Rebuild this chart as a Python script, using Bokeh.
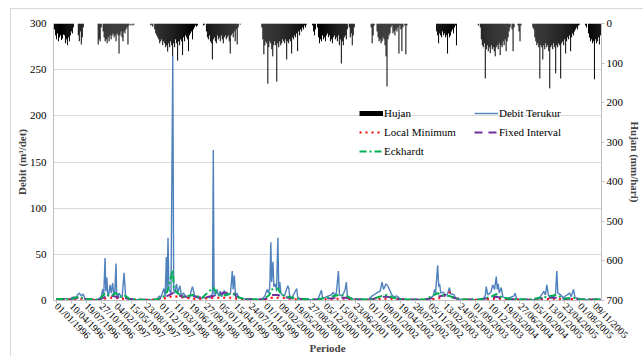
import pandas as pd
from bokeh.plotting import figure
from bokeh.models import (Range1d, LinearAxis, FixedTicker, DatetimeTickFormatter,
                          Legend, LegendItem, ColumnDataSource)
from bokeh.embed import file_html
from bokeh.resources import INLINE

# ---------------- data ----------------
tick_labels = ["01/01/1996", "10/04/1996", "19/07/1996", "27/10/1996", "04/02/1997", "15/05/1997",
               "23/08/1997", "01/12/1997", "11/03/1998", "19/06/1998", "27/09/1998", "05/01/1999",
               "15/04/1999", "24/07/1999", "01/11/1999", "09/02/2000", "19/05/2000", "27/08/2000",
               "05/12/2000", "15/03/2001", "23/06/2001", "01/10/2001", "09/01/2002", "19/04/2002",
               "28/07/2002", "05/11/2002", "13/02/2003", "24/05/2003", "01/09/2003", "10/12/2003",
               "19/03/2004", "27/06/2004", "05/10/2004", "13/01/2005", "23/04/2005", "01/08/2005",
               "09/11/2005"]

# rainfall (mm/hari), read per wet season, one value per ~6.6 days (one pixel column)
rain_starts = ["1995-12-19", "1996-05-26", "1996-10-06", "1997-09-23", "1998-09-10", "1999-10-06",
               "2000-09-09", "2001-10-06", "2002-12-18", "2003-09-23", "2004-09-22", "2005-09-09"]
rain_1996a = [15, 30, 40, 25, 45, 35, 30, 42, 38, 28, 30, 50, 40, 55, 35, 45, 30, 20, 25, 10]
rain_1996b = [30, 45, 20, 53, 35, 10]
rain_1996c = [53, 40, 45, 10, 0, 20, 35, 45, 40, 50, 35, 45, 30, 40, 30, 25, 35, 30, 45, 25, 30, 76,
              30, 20, 35, 45, 20, 25, 15, 10, 53, 5, 0, 5, 0, 5, 3]
rain_1997 = [5, 3, 8, 0, 15, 25, 30, 35, 40, 50, 45, 40, 55, 45, 50, 60, 55, 71, 50, 60, 45, 55, 83, 50,
             60, 40, 50, 94, 45, 55, 40, 45, 80, 35, 45, 30, 35, 40, 70, 30, 25, 20, 40, 15, 10, 5, 8, 5]
rain_1998 = [5, 3, 0, 20, 35, 40, 30, 45, 50, 91, 40, 35, 45, 50, 30, 40, 35, 45, 30, 40, 50, 35, 30, 40,
             35, 30, 45, 76, 30, 25, 35, 20, 45, 15, 53, 10, 0, 3]
rain_1999 = [10, 40, 78, 55, 45, 50, 152, 60, 45, 50, 65, 83, 55, 45, 55, 147, 50, 60, 45, 55, 50, 40,
             45, 50, 40, 91, 45, 50, 40, 45, 76, 35, 40, 30, 35, 25, 70, 20, 30, 15, 20, 10, 15, 5, 10, 3]
rain_2000 = [5, 20, 30, 15, 0, 10, 35, 50, 40, 45, 30, 40, 35, 45, 30, 25, 35, 30, 45, 40, 50, 35, 30,
             40, 35, 45, 30, 55, 40, 101, 45, 55, 35, 30, 40, 15, 0, 10, 35, 25, 55, 30, 10]
rain_2001 = [10, 50, 30, 5, 0, 0, 20, 35, 45, 40, 50, 45, 35, 40, 55, 83, 159, 40, 30, 25, 10, 5, 25,
             20, 30, 15, 20, 10, 76, 5, 15, 70, 10, 0, 5, 78, 5]
rain_2002 = [20, 30, 50, 25, 30, 35, 20, 30, 25, 35, 30, 76, 25, 35, 30, 20, 15, 25, 10, 5, 55]
rain_2003 = [5, 0, 10, 40, 55, 60, 50, 139, 65, 55, 70, 60, 75, 55, 65, 60, 70, 83, 60, 55, 65, 50, 80,
             55, 60, 45, 55, 40, 70, 45, 35, 20, 10, 0, 15, 70, 10, 0, 0, 0, 5, 20, 45, 5]
rain_2004 = [10, 15, 35, 45, 55, 50, 60, 139, 55, 60, 91, 55, 65, 50, 60, 55, 70, 164, 60, 55, 65, 50,
             60, 126, 55, 60, 50, 55, 139, 50, 45, 55, 40, 76, 45, 35, 40, 30, 70, 35, 25, 30, 20, 15,
             10, 15, 5, 3]
rain_2005 = [5, 10, 0, 25, 35, 45, 40, 50, 45, 141, 40, 50, 45, 35, 53, 30]
rain_seasons = [rain_1996a, rain_1996b, rain_1996c, rain_1997, rain_1998, rain_1999, rain_2000,
                rain_2001, rain_2002, rain_2003, rain_2004, rain_2005]

# measured discharge (m3/det)
debit_terukur = [
    ("1996-01-01", 1.5), ("1996-02-01", 2), ("1996-03-01", 2), ("1996-04-01", 1.5), ("1996-04-25", 4),
    ("1996-05-10", 3), ("1996-05-20", 6), ("1996-06-02", 8), ("1996-06-15", 5), ("1996-06-28", 7),
    ("1996-07-10", 2), ("1996-08-15", 1), ("1996-09-20", 1), ("1996-10-10", 1.5), ("1996-10-26", 4),
    ("1996-11-05", 12), ("1996-11-12", 5), ("1996-11-21", 46), ("1996-11-26", 10), ("1996-12-03", 25),
    ("1996-12-08", 8), ("1996-12-14", 5), ("1996-12-25", 17), ("1997-01-01", 8), ("1997-01-11", 19),
    ("1997-01-18", 6), ("1997-01-25", 8), ("1997-02-02", 40), ("1997-02-07", 6), ("1997-02-15", 4),
    ("1997-02-22", 8), ("1997-03-05", 5), ("1997-03-15", 3), ("1997-03-28", 30), ("1997-04-03", 16),
    ("1997-04-08", 3), ("1997-04-25", 2), ("1997-06-01", 1), ("1997-08-01", 0.8), ("1997-10-01", 1),
    ("1997-11-01", 1.5), ("1997-11-20", 5), ("1997-11-28", 3), ("1997-12-20", 13), ("1997-12-28", 4),
    ("1998-01-05", 47), ("1998-01-10", 8), ("1998-01-16", 68), ("1998-01-22", 12), ("1998-02-05", 8),
    ("1998-02-17", 265), ("1998-02-23", 12), ("1998-03-01", 8), ("1998-03-14", 18), ("1998-03-22", 8),
    ("1998-04-05", 16), ("1998-04-15", 6), ("1998-04-30", 8), ("1998-05-15", 4), ("1998-06-10", 3),
    ("1998-06-22", 12), ("1998-06-29", 15), ("1998-07-06", 10), ("1998-07-15", 4), ("1998-08-15", 2),
    ("1998-09-15", 3), ("1998-10-10", 4), ("1998-10-25", 3), ("1998-11-10", 8), ("1998-11-15", 163),
    ("1998-11-20", 8), ("1998-11-28", 5), ("1998-12-10", 12), ("1998-12-20", 5), ("1999-01-01", 10),
    ("1999-01-10", 4), ("1999-01-28", 11), ("1999-02-08", 5), ("1999-02-20", 6), ("1999-03-10", 8),
    ("1999-03-22", 32), ("1999-03-28", 12), ("1999-04-05", 27), ("1999-04-12", 6), ("1999-04-22", 8),
    ("1999-05-05", 3), ("1999-06-15", 1.5), ("1999-08-15", 1), ("1999-10-10", 2), ("1999-10-26", 5),
    ("1999-11-10", 12), ("1999-11-20", 8), ("1999-11-28", 15), ("1999-12-05", 63), ("1999-12-10", 20),
    ("1999-12-19", 42), ("1999-12-25", 15), ("2000-01-05", 18), ("2000-01-12", 10), ("2000-01-21", 68),
    ("2000-01-27", 12), ("2000-02-03", 20), ("2000-02-10", 8), ("2000-02-20", 6), ("2000-03-05", 5),
    ("2000-03-27", 16), ("2000-04-03", 13), ("2000-04-10", 4), ("2000-04-25", 3), ("2000-05-26", 13),
    ("2000-06-02", 3), ("2000-07-01", 1.5), ("2000-09-01", 1), ("2000-10-15", 1.5), ("2000-11-08", 11),
    ("2000-11-15", 2), ("2000-12-10", 4), ("2001-01-10", 6), ("2001-01-27", 9), ("2001-02-05", 5),
    ("2001-02-15", 8), ("2001-03-01", 32), ("2001-03-08", 6), ("2001-03-20", 5), ("2001-04-05", 8),
    ("2001-04-15", 12), ("2001-04-23", 20), ("2001-04-30", 5), ("2001-05-15", 3), ("2001-06-15", 1.5),
    ("2001-08-15", 1), ("2001-09-20", 1.5), ("2001-10-13", 5), ("2001-11-01", 7), ("2001-11-20", 9),
    ("2001-12-05", 10), ("2001-12-18", 20), ("2001-12-28", 12), ("2002-01-13", 18), ("2002-01-25", 16),
    ("2002-02-05", 12), ("2002-02-22", 6), ("2002-03-05", 4), ("2002-03-28", 5), ("2002-04-15", 2),
    ("2002-06-15", 1), ("2002-09-01", 0.8), ("2002-11-01", 1.5), ("2002-11-25", 5), ("2002-12-05", 12),
    ("2002-12-11", 8), ("2002-12-25", 38), ("2003-01-01", 15), ("2003-01-07", 18), ("2003-01-15", 8),
    ("2003-02-01", 9), ("2003-02-15", 6), ("2003-03-01", 7), ("2003-03-14", 14), ("2003-03-22", 7),
    ("2003-04-03", 7), ("2003-04-15", 6), ("2003-04-25", 2), ("2003-06-15", 1), ("2003-09-15", 1),
    ("2003-10-25", 2), ("2003-11-08", 5), ("2003-11-15", 15), ("2003-11-25", 6), ("2003-12-10", 8),
    ("2003-12-18", 10), ("2003-12-28", 17), ("2004-01-10", 12), ("2004-01-21", 26), ("2004-01-28", 12),
    ("2004-02-03", 18), ("2004-02-10", 8), ("2004-02-23", 14), ("2004-03-05", 4), ("2004-04-01", 2),
    ("2004-05-20", 5), ("2004-05-26", 8), ("2004-06-05", 2), ("2004-07-15", 1), ("2004-10-01", 1),
    ("2004-11-10", 4), ("2004-12-04", 10), ("2004-12-15", 6), ("2004-12-24", 17), ("2005-01-05", 5),
    ("2005-02-01", 4), ("2005-02-20", 6), ("2005-03-01", 32), ("2005-03-08", 8), ("2005-03-27", 6),
    ("2005-04-10", 3), ("2005-05-26", 8), ("2005-06-05", 4), ("2005-06-21", 12), ("2005-07-01", 3),
    ("2005-08-15", 1.5), ("2005-10-01", 1), ("2005-12-31", 1.5),
]

# baseflow separations (m3/det)
bf_dates = ["1996-01-01", "1996-04-01", "1996-06-01", "1996-07-15", "1996-10-15", "1996-11-21",
            "1996-12-15", "1997-01-11", "1997-02-02", "1997-03-01", "1997-03-28", "1997-05-01",
            "1997-08-01", "1997-11-01", "1997-12-15", "1998-01-12", "1998-02-17", "1998-02-25",
            "1998-03-20", "1998-05-01", "1998-07-01", "1998-09-01", "1998-11-15", "1998-12-15",
            "1999-01-15", "1999-03-25", "1999-04-20", "1999-06-15", "1999-10-15", "1999-11-25",
            "1999-12-10", "2000-01-21", "2000-02-15", "2000-04-01", "2000-06-01", "2000-10-01",
            "2000-12-15", "2001-03-01", "2001-04-23", "2001-06-01", "2001-10-01", "2001-12-18",
            "2002-01-20", "2002-03-01", "2002-05-01", "2002-10-01", "2002-12-25", "2003-01-15",
            "2003-03-14", "2003-04-10", "2003-06-01", "2003-10-01", "2003-12-15", "2004-01-21",
            "2004-02-20", "2004-04-15", "2004-09-01", "2004-12-24", "2005-03-01", "2005-04-15",
            "2005-06-21", "2005-08-01", "2005-12-31"]
local_minimum = [1, 1, 2, 1, 0.8, 2, 3, 3, 3, 2, 2, 1, 0.5, 1, 2, 3, 5, 5, 4, 3, 2, 2, 3, 3, 3, 3, 2, 1,
                 0.8, 2, 3, 3, 3, 2, 1, 0.8, 1.5, 2, 2, 1, 0.8, 2, 2, 2, 1, 0.8, 2, 3, 9, 2, 1, 0.8, 2,
                 2, 2, 1, 0.8, 1.5, 2, 1.5, 1.5, 1, 1]
fixed_interval = [1.5, 1.5, 3, 1.5, 1, 4, 5, 5, 4, 3, 3, 1.5, 0.8, 1, 3, 5, 8, 8, 6, 4, 5, 3, 5, 5, 8, 9,
                  4, 1.5, 1, 4, 6, 6, 4, 3, 1.5, 1, 2, 3, 3, 1.5, 1, 4, 4, 3, 1.2, 1, 4, 5, 6, 3, 1.2,
                  1, 3, 4, 3, 1.5, 1, 3, 3, 2, 2, 1, 1.2]
eckhardt = [1.5, 1.5, 4, 1.5, 1, 8, 5, 6, 8, 4, 6, 2, 0.8, 1, 4, 10, 33, 12, 8, 4, 6, 3, 14, 6, 5, 8, 4,
            1.5, 1, 6, 12, 13, 6, 4, 2, 1, 3, 6, 5, 1.5, 1, 5, 6, 3, 1.2, 1, 8, 6, 5, 3, 1.2, 1, 4, 7,
            4, 2, 1, 4, 6, 2, 3, 1, 1.2]

# ---------------- build sources ----------------
rain_x, rain_v = [], []
for start, vals in zip(rain_starts, rain_seasons):
    dates = pd.date_range(start, periods=len(vals), freq=pd.Timedelta(days=6.64))
    for d, v in zip(dates, vals):
        if v > 0:
            rain_x.append(d)
            rain_v.append(v)
rain_src = ColumnDataSource(dict(x=rain_x, top=[0] * len(rain_x), mm=rain_v))

flow_src = ColumnDataSource(dict(x=pd.to_datetime([d for d, _ in debit_terukur]),
                                 q=[q for _, q in debit_terukur]))
bf_src = ColumnDataSource(dict(x=pd.to_datetime(bf_dates), lm=local_minimum,
                               fi=fixed_interval, ek=eckhardt))
# legend key for the rain bars (no visible data)
key_src = ColumnDataSource(dict(x=rain_x[:1], y=[float("nan")]))

tick_dates = pd.to_datetime(tick_labels, format="%d/%m/%Y")
tick_ms = [d.timestamp() * 1000 for d in tick_dates]

# ---------------- figure ----------------
FONT = "Liberation Serif"
p = figure(width=633, height=348, x_axis_type="datetime", output_backend="svg",
           toolbar_location=None,
           x_range=Range1d(pd.Timestamp("1995-12-12"), pd.Timestamp("2005-12-25")),
           y_range=Range1d(0, 300),
           min_border_left=42, min_border_right=39, min_border_top=14, min_border_bottom=56)
p.margin = (8, 0, 0, 10)
p.styles = {"border-left": "1px solid #d9d9d9", "border-top": "1px solid #d9d9d9"}
p.outline_line_color = None
p.background_fill_color = "white"
p.border_fill_color = "white"

p.extra_y_ranges = {"rain": Range1d(700, 0)}

p.xgrid.grid_line_color = None
p.ygrid.ticker = FixedTicker(ticks=[0, 50, 100, 150, 200, 250, 300])
p.ygrid.grid_line_color = "#d9d9d9"

# x axis
xa = p.xaxis[0]
xa.ticker = FixedTicker(ticks=tick_ms)
fmt = "%d/%m/%Y"
xa.formatter = DatetimeTickFormatter(microseconds=fmt, milliseconds=fmt, seconds=fmt, minsec=fmt,
                                     minutes=fmt, hourmin=fmt, hours=fmt, days=fmt, months=fmt,
                                     years=fmt)
xa.major_label_orientation = -0.785398
xa.major_label_text_font = FONT
xa.major_label_text_font_size = "10px"
xa.major_label_text_color = "black"
xa.major_label_standoff = 1
xa.axis_line_color = "#bfbfbf"
xa.major_tick_line_color = "#bfbfbf"
xa.major_tick_out = 3
xa.major_tick_in = 0
xa.minor_tick_line_color = None
xa.minor_tick_out = 0
xa.axis_label = "Periode"
xa.axis_label_text_font = FONT
xa.axis_label_text_font_style = "bold"
xa.axis_label_text_font_size = "11px"
xa.axis_label_standoff = -5

# left axis
ya = p.yaxis[0]
ya.ticker = FixedTicker(ticks=[0, 50, 100, 150, 200, 250, 300])
ya.major_label_text_font = FONT
ya.major_label_text_font_size = "11px"
ya.major_label_text_color = "black"
ya.axis_line_color = "#bfbfbf"
ya.major_tick_line_color = None
ya.major_tick_out = 0
ya.major_tick_in = 0
ya.minor_tick_line_color = None
ya.minor_tick_out = 0
ya.major_label_standoff = 7
ya.axis_label = "Debit (m³/det)"
ya.axis_label_text_font = FONT
ya.axis_label_text_font_style = "bold"
ya.axis_label_text_font_size = "11px"
ya.axis_label_standoff = -1

# right axis (rain)
ra = LinearAxis(y_range_name="rain", ticker=FixedTicker(ticks=[0, 100, 200, 300, 400, 500, 600, 700]))
ra.major_label_text_font = FONT
ra.major_label_text_font_size = "11px"
ra.major_label_text_color = "black"
ra.axis_line_color = "#bfbfbf"
ra.major_tick_line_color = "#bfbfbf"
ra.major_tick_out = 3
ra.major_tick_in = 0
ra.minor_tick_line_color = None
ra.minor_tick_out = 0
ra.major_label_standoff = 2
ra.axis_label = "Hujan (mm/hari)"
ra.axis_label_text_font = FONT
ra.axis_label_text_font_style = "bold"
ra.axis_label_text_font_size = "11px"
ra.axis_label_standoff = 3
p.add_layout(ra, "right")

# ---------------- glyphs ----------------
p.segment(x0="x", y0="top", x1="x", y1="mm", source=rain_src, y_range_name="rain",
          line_color="black", line_width=1.0)
hujan_key = p.line("x", "y", source=key_src, line_color="black", line_width=5)

r_flow = p.line("x", "q", source=flow_src, line_color="#4f81bd", line_width=1.4)
r_lm = p.line("x", "lm", source=bf_src, line_color="#ff0000", line_width=2, line_dash="2 4")
r_fi = p.line("x", "fi", source=bf_src, line_color="#7030a0", line_width=2, line_dash="8 6")
r_ek = p.line("x", "ek", source=bf_src, line_color="#00b050", line_width=2, line_dash="7 3 2 3")

def make_legend(items, loc):
    lg = Legend(items=items, location=loc, orientation="vertical")
    lg.background_fill_alpha = 0
    lg.border_line_color = None
    lg.padding = 0
    lg.margin = 0
    lg.spacing = 3
    lg.glyph_width = 24
    lg.glyph_height = 16
    lg.label_height = 16
    lg.label_standoff = 1
    lg.label_text_font = FONT
    lg.label_text_font_size = "11px"
    lg.label_text_color = "black"
    return lg

leg1 = make_legend([LegendItem(label="Hujan", renderers=[hujan_key]),
                    LegendItem(label="Local Minimum", renderers=[r_lm]),
                    LegendItem(label="Eckhardt", renderers=[r_ek])], (306, 141))
leg2 = make_legend([LegendItem(label="Debit Terukur", renderers=[r_flow]),
                    LegendItem(label="Fixed Interval", renderers=[r_fi])], (421, 160))
p.add_layout(leg1)
p.add_layout(leg2)

open("out.html", "w").write(file_html(p, INLINE))
